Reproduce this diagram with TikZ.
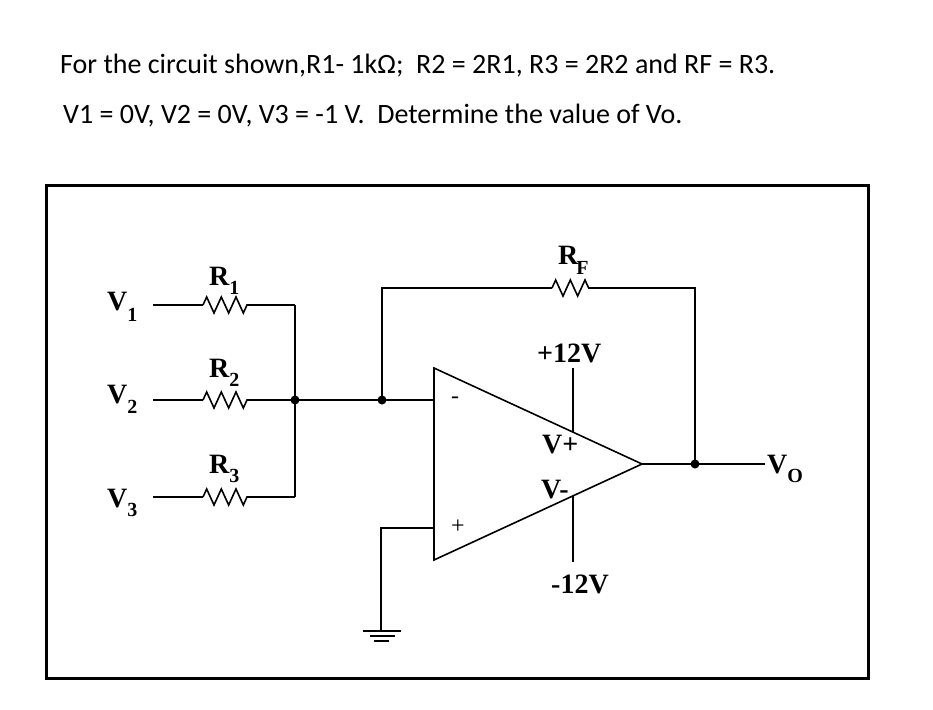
\documentclass[tikz,border=0pt]{standalone}
\usepackage{fontspec}
\setmainfont{Liberation Serif}
\newfontfamily\questionfont{Carlito}
\usetikzlibrary{decorations.pathmorphing}
\newcommand{\lsub}[2][9pt]{\raisebox{-#1}{\fontsize{20}{20}\selectfont #2}}

\begin{document}
\begin{tikzpicture}[x=1pt, y=-1pt]
    \tikzstyle{wire} = [line width=1.6pt]
    \tikzstyle{resistor} = [line width=1.6pt, decorate, decoration={zigzag, segment length=14.66pt, amplitude=8pt}]
    \tikzstyle{branch} = [fill, shape=circle, minimum size=9pt, inner sep=0pt]
    \tikzstyle{cirlabel} = [font=\fontsize{28}{28}\selectfont\bfseries, anchor=base west, inner sep=0pt]
    \tikzstyle{sign} = [font=\fontsize{24}{24}\selectfont, inner sep=0pt]
    \tikzstyle{question} = [font=\questionfont\fontsize{28}{32}\selectfont, anchor=base west, inner sep=0pt]
    \useasboundingbox (0,0) rectangle (933,709);
    %Question Text
    \node [question] (question_1) at (60,73) {For the circuit shown,R1- 1kΩ;~ R2 = 2R1, R3 = 2R2 and RF = R3.};
    \node [question] (question_2) at (63,123) {V1 = 0V, V2 = 0V, V3 = -1 V.~ Determine the value of Vo.};
    \draw [line width=3pt] (46.5,185) rectangle (868,678);

    %Creating Coordinates
    \foreach \i/\y in {1/305, 2/400, 3/497} {
        \coordinate (in_\i) at (153,\y);
        \coordinate (r_\i a) at (203,\y);
        \coordinate (r_\i b) at (247,\y);
        \coordinate (bus_\i) at (295,\y);
    }
    \coordinate (branch_1) at (382,400);
    \coordinate (fb_1) at (382,288);
    \coordinate (r_fa) at (552,288);
    \coordinate (r_fb) at (594,288);
    \coordinate (fb_2) at (695,288);
    \coordinate (opamp_top) at (434,368);
    \coordinate (opamp_bot) at (434,560);
    \coordinate (opamp_out) at (642,464);
    \coordinate (inv) at (434,400);
    \coordinate (noninv) at (434,528);
    \coordinate (gnd_corner) at (381,528);
    \coordinate (gnd) at (381,631);
    \coordinate (branch_2) at (695,464);
    \coordinate (output) at (765,464);
    \coordinate (vplus_top) at (573,368);
    \coordinate (vplus) at (573,432);
    \coordinate (vminus) at (573,496);
    \coordinate (vminus_bot) at (573,562);

    %Labels
    \node [cirlabel] (v_1) at (107,310) {V\lsub[11pt]{1}};
    \node [cirlabel] (v_2) at (107,403) {V\lsub[10pt]{2}};
    \node [cirlabel] (v_3) at (107,507) {V\lsub[9pt]{3}};
    \node [cirlabel] (r_1) at (209,285) {R\lsub{1}};
    \node [cirlabel] (r_2) at (209,377) {R\lsub{2}};
    \node [cirlabel] (r_3) at (209,473) {R\lsub{3}};
    \node [cirlabel] (r_f) at (558,264) {R\kern-2pt\lsub[10pt]{F}};
    \node [cirlabel] (v_o) at (767,473) {V\lsub{O}};
    \node [cirlabel] (supply_p) at (537,362) {+12V};
    \node [cirlabel] (supply_m) at (551,593) {-12V};
    \node [cirlabel] (pin_p) at (542,453) {V+};
    \node [cirlabel] (pin_m) at (541,498) {V-};
    \node [sign] (minus) at (455,400) {-};
    \node [sign] (plus) at (458,527) {+};

    %Conecting Elements
    \begin{scope}[wire]
        \foreach \i in {1,2,3} {
            \draw (in_\i) -- (r_\i a);
            \draw [resistor] (r_\i a) -- (r_\i b);
            \draw (r_\i b) -- (bus_\i);
        }
        \draw (bus_1) -- (bus_3);
        \draw (bus_2) -- (inv);
        \draw (branch_1) -- (fb_1) -- (r_fa);
        \draw [resistor] (r_fa) -- (r_fb);
        \draw (r_fb) -- (fb_2) -- (branch_2);
        \draw (opamp_top) -- (opamp_out) -- (opamp_bot) -- cycle;
        \draw (opamp_out) -- (output);
        \draw (noninv) -- (gnd_corner) -- (gnd);
        \draw (vplus_top) -- (vplus);
        \draw (vminus) -- (vminus_bot);
        \draw ([xshift=-18pt]gnd) -- ([xshift=20pt]gnd);
        \draw ([xshift=-11pt, yshift=-5pt]gnd) -- ([xshift=14pt, yshift=-5pt]gnd);
        \draw ([xshift=-7pt, yshift=-10pt]gnd) -- ([xshift=8pt, yshift=-10pt]gnd);
        \node [branch] at (bus_2) {};
        \node [branch] at (branch_1) {};
        \node [branch] at (branch_2) {};
    \end{scope}
\end{tikzpicture}
\end{document}
